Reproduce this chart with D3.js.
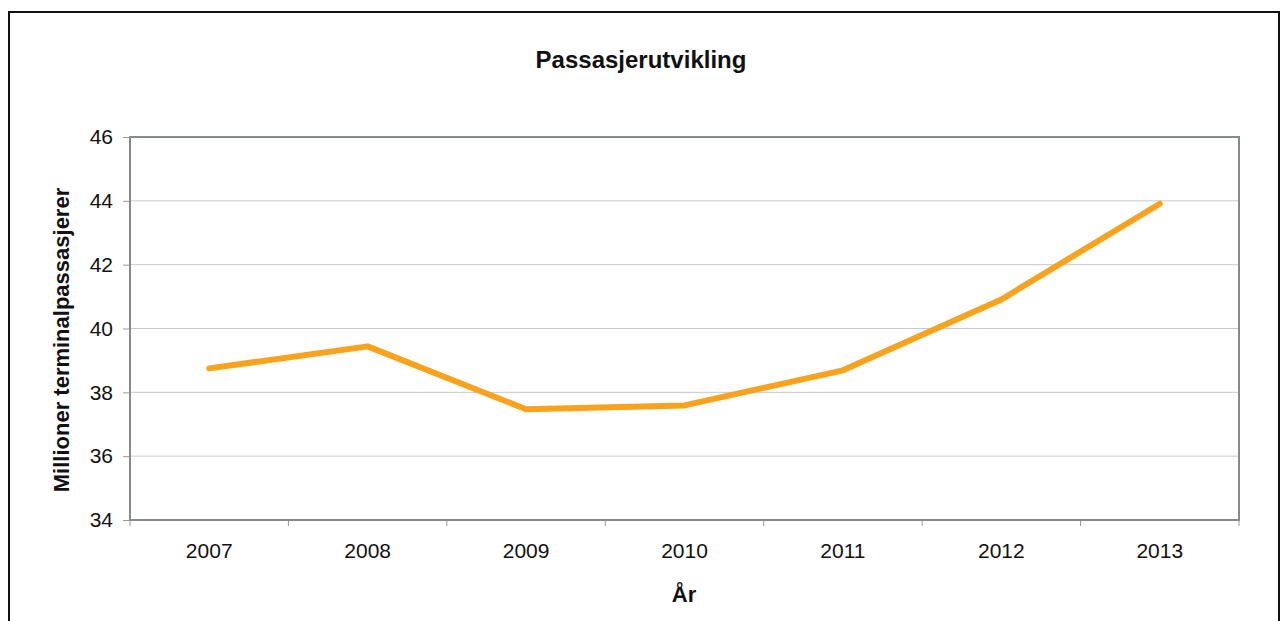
<!DOCTYPE html>
<html><head><meta charset="utf-8">
<script src="https://cdn.jsdelivr.net/npm/d3@7"></script>
<style>body{margin:0;background:#fff}svg{display:block}text{font-family:"Liberation Sans",Arial,sans-serif}</style>
</head><body>
<svg id="c" width="1285" height="621"></svg>
<script>
const years = ["2007","2008","2009","2010","2011","2012","2013"];
const passengers = [38.75, 39.44, 37.47, 37.59, 38.69, 40.91, 43.91];
const yTicks = [34, 36, 38, 40, 42, 44, 46];

const svg = d3.select("#c");
const m = {l:130, r:1239, t:137, b:520};
// outer frame
svg.append("rect").attr("x",9).attr("y",12).attr("width",1270).attr("height",620)
  .attr("fill","none").attr("stroke","#111").attr("stroke-width",2);

const x = d3.scaleBand().domain(years).range([m.l, m.r]);
const y = d3.scaleLinear().domain([34,46]).range([m.b, m.t]);

// gridlines
svg.append("g").selectAll("line").data(yTicks.slice(1,-1)).join("line")
  .attr("x1",m.l).attr("x2",m.r).attr("y1",d=>y(d)).attr("y2",d=>y(d))
  .attr("stroke","#c8c8c8").attr("stroke-width",1);

// y axis
const ya = svg.append("g").attr("transform",`translate(${m.l},0)`)
  .call(d3.axisLeft(y).tickValues(yTicks).tickSize(7).tickPadding(10).tickFormat(d3.format("d")));
ya.select(".domain").remove();
ya.selectAll("line").attr("stroke","#999");
ya.selectAll("text").attr("font-size",21).attr("fill","#111");

// x axis ticks at band boundaries
const bounds = years.map(d=>x(d)).concat([m.r]);
svg.append("g").selectAll("line").data(bounds).join("line")
  .attr("x1",d=>d).attr("x2",d=>d).attr("y1",m.b).attr("y2",m.b+6)
  .attr("stroke","#999").attr("stroke-width",1);
svg.append("g").selectAll("text").data(years).join("text")
  .attr("x",d=>x(d)+x.bandwidth()/2).attr("y",558).attr("text-anchor","middle")
  .attr("font-size",21).attr("fill","#111").text(d=>d);

// plot frame
svg.append("rect").attr("x",m.l).attr("y",m.t).attr("width",m.r-m.l).attr("height",m.b-m.t)
  .attr("fill","none").attr("stroke","#858a8d").attr("stroke-width",2);

// line
const line = d3.line().x((d,i)=>x(years[i])+x.bandwidth()/2).y(d=>y(d));
svg.append("path").datum(passengers).attr("d",line)
  .attr("fill","none").attr("stroke","#f8a21e").attr("stroke-width",6)
  .attr("stroke-linejoin","round").attr("stroke-linecap","round");

// titles
svg.append("text").attr("x",641).attr("y",68).attr("text-anchor","middle")
  .attr("font-size",24).attr("font-weight","bold").attr("fill","#111").text("Passasjerutvikling");
svg.append("text").attr("x",684).attr("y",602).attr("text-anchor","middle")
  .attr("font-size",22).attr("font-weight","bold").attr("fill","#111").text("År");
svg.append("text").attr("transform",`translate(69,340) rotate(-90)`).attr("text-anchor","middle")
  .attr("font-size",22).attr("font-weight","bold").attr("fill","#111").text("Millioner terminalpassasjerer");
</script>
</body></html>
